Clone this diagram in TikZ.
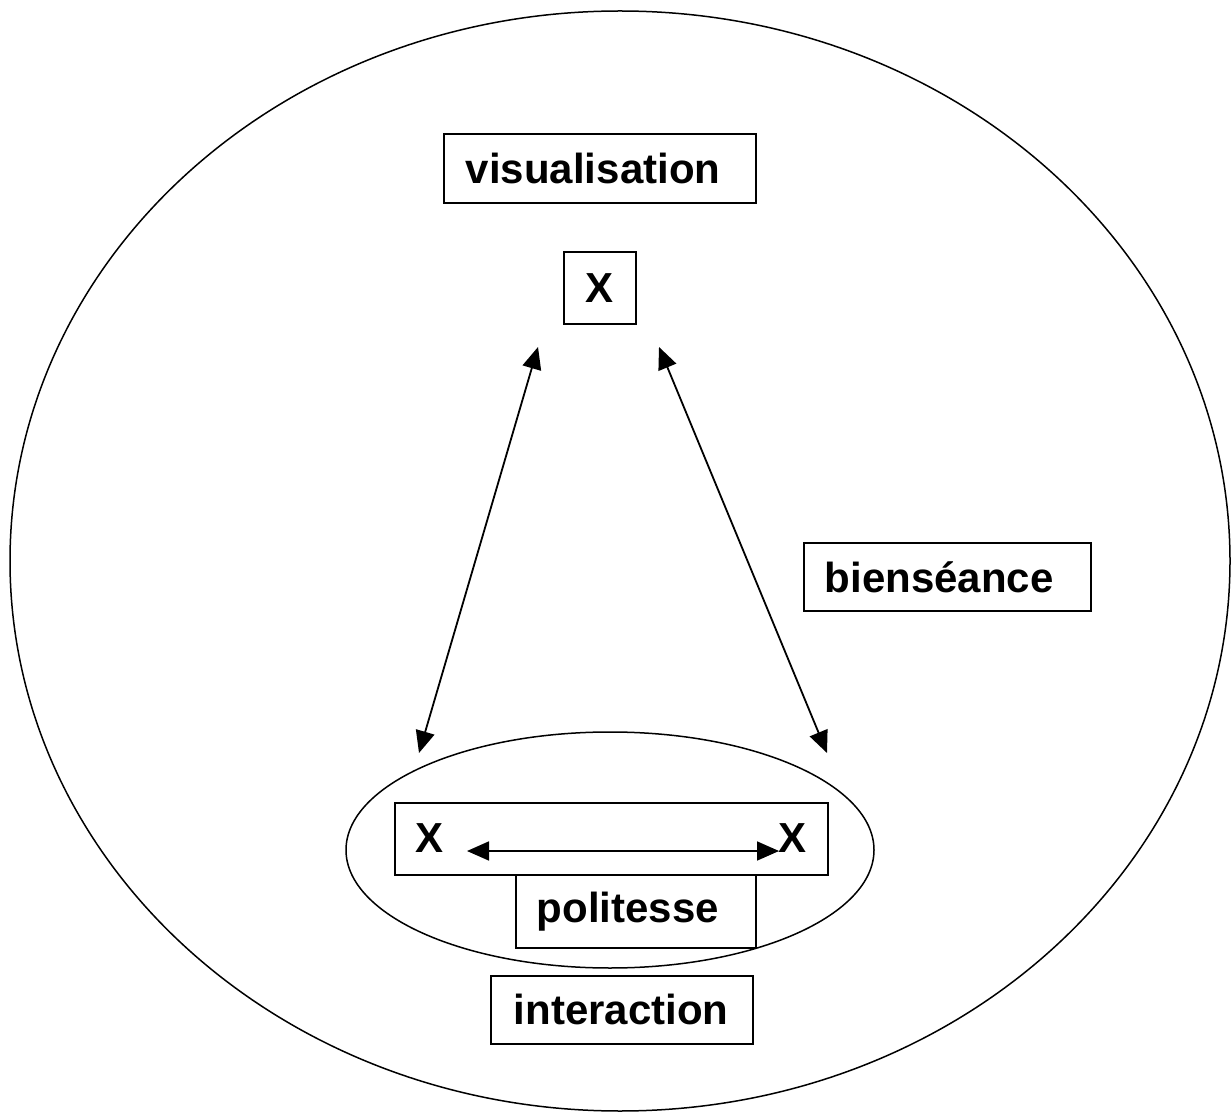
\documentclass[tikz,border=0pt]{standalone}
\usepackage{fontspec}
\setmainfont{Liberation Sans}
\usetikzlibrary{arrows.meta}
\begin{document}
\begin{tikzpicture}[x=0.5pt,y=-0.5pt,
  lbl/.style={font=\fontsize{21}{25}\selectfont\bfseries},
  boxlbl/.style={lbl,draw,line width=0.9pt,align=left,inner ysep=0pt,anchor=north west},
  dbl/.style={line width=0.9pt,{Triangle[length=11pt,width=9.5pt]}-{Triangle[length=11pt,width=9.5pt]}}]
\useasboundingbox (0,0) rectangle (1232,1112);
\draw[line width=0.75pt] (620,561) ellipse [x radius=610, y radius=550];
\draw[line width=0.75pt] (610,850) ellipse [x radius=264, y radius=118];
% boxes
\node[boxlbl,inner xsep=11pt,text width=134pt,minimum height=34.5pt] (vis) at (443,133) {visualisation};
\node[boxlbl,inner xsep=0pt,text width=36pt,align=center,minimum height=36pt] (xtop) at (563,251) {X};
\node[boxlbl,inner xsep=10.5pt,text width=122.5pt,minimum height=34pt] (bien) at (803,542) {bienséance};
\node[draw,line width=0.9pt,anchor=north west,minimum width=216.5pt,minimum height=36pt,inner sep=0pt] (inner) at (394,802) {};
\node[boxlbl,inner xsep=10.5pt,text width=99pt,minimum height=36.5pt] (pol) at (515,874) {politesse};
\node[boxlbl,inner xsep=11.5pt,text width=108pt,minimum height=34pt] (inter) at (490,975) {interaction};
\node[lbl,inner sep=0pt] (xl) at (430,838) {X};
\node[lbl,inner sep=0pt] (xr) at (792,838) {X};
% arrow ends
\coordinate (a1) at (538,347);
\coordinate (a2) at (419,753);
\coordinate (b1) at (659,347);
\coordinate (b2) at (827,753);
\coordinate (h1) at (467,851);
\coordinate (h2) at (779,851);
\draw[dbl] (a1) -- (a2);
\draw[dbl] (b1) -- (b2);
\draw[dbl] (h1) -- (h2);
\end{tikzpicture}
\end{document}
